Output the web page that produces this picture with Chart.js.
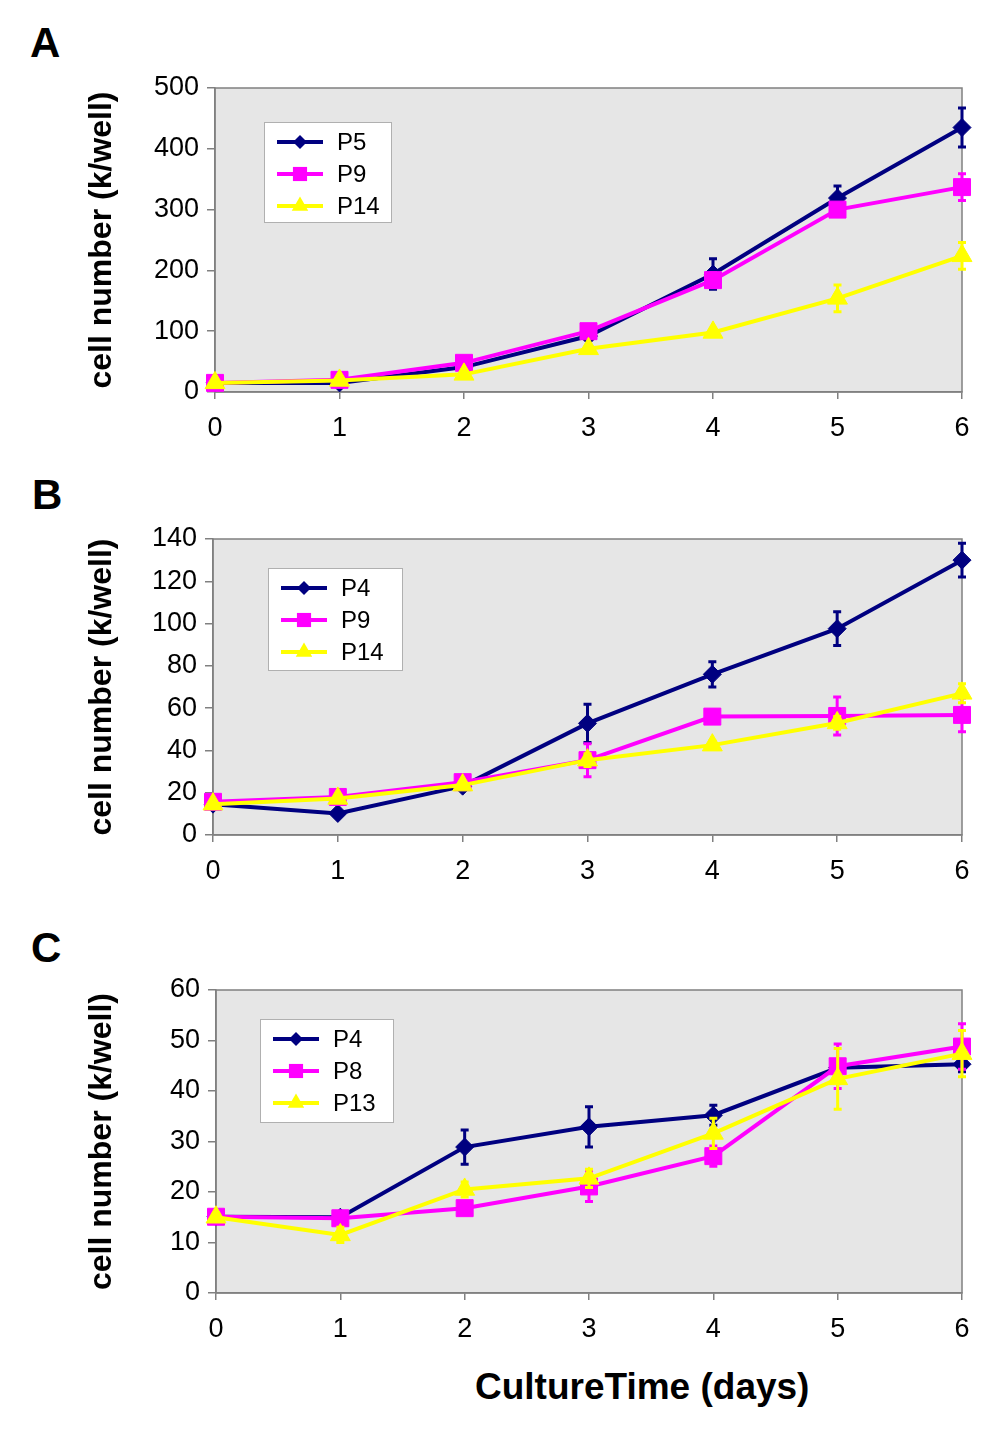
<!DOCTYPE html>
<html lang="en">
<head>
<meta charset="UTF-8">
<title>Cell number vs culture time</title>
<script src="https://cdn.jsdelivr.net/npm/chart.js@4"></script>
<style>
    body {
        margin: 0;
        background: #ffffff;
        width: 994px;
        height: 1432px;
        position: relative;
        overflow: hidden;
        font-family: "Liberation Sans", Arial, sans-serif;
    }
    canvas { position: absolute; left: 0; }
    .letter {
        position: absolute;
        font-size: 42px;
        line-height: 42px;
        font-weight: bold;
    }
    #xTitle {
        position: absolute;
        left: 475px;
        top: 1368px;
        font-size: 37px;
        line-height: 37px;
        font-weight: bold;
        white-space: nowrap;
    }
</style>
</head>
<body>
<div class="letter" style="left:30px; top:22px;">A</div>
<div class="letter" style="left:32px; top:474px;">B</div>
<div class="letter" style="left:31px; top:927px;">C</div>

<canvas id="chartA" width="994" height="460" style="top:0px;"></canvas>
<canvas id="chartB" width="994" height="450" style="top:460px;"></canvas>
<canvas id="chartC" width="994" height="440" style="top:910px;"></canvas>

<div id="xTitle">CultureTime (days)</div>

<script>
// culture time (days)
const days = ['0', '1', '2', '3', '4', '5', '6'];

// panel A (k cells / well) and error bars
const aP5 = [15, 15, 41, 92, 194, 319, 435];
const aP5Err = [3, 3, 3, 5, 25, 20, 32];
const aP9 = [15, 20, 48, 100, 184, 300, 337];
const aP9Err = [2, 2, 4, 5, 12, 8, 22];
const aP14 = [15, 19, 29, 71, 98, 154, 224];
const aP14Err = [2, 2, 3, 6, 6, 22, 22];

// panel B
const bP4 = [14.6, 10.2, 23.1, 52.8, 76, 97.6, 130];
const bP4Err = [1, 1, 1.5, 9, 6, 8, 8];
const bP9 = [15.7, 18, 25, 35.4, 56, 56.3, 56.8];
const bP9Err = [1, 1, 1.5, 7.8, 3, 9, 8];
const bP14 = [14.6, 17.3, 23.6, 35.4, 42.5, 53, 67];
const bP14Err = [1, 1, 1.5, 3, 2, 3, 4.5];

// panel C
const cP4 = [15.1, 15, 28.9, 32.9, 35.2, 44.6, 45.3];
const cP4Err = [0.5, 0.5, 3.4, 4, 2, 1, 1.5];
const cP8 = [15.1, 14.8, 16.8, 21.1, 27.1, 44.9, 48.8];
const cP8Err = [0.5, 1, 0.8, 3, 2, 4.4, 4.5];
const cP13 = [15, 11.5, 20.5, 22.7, 31.6, 42.4, 47.4];
const cP13Err = [0.5, 1.5, 1.5, 1.8, 3, 6, 4.6];

const FONT = '"Liberation Sans", Arial, sans-serif';
const NAVY = '#000080', MAGENTA = '#ff00ff', YELLOW = '#ffff00';

function drawMarker(ctx, style, x, y, r, color) {
    ctx.fillStyle = color;
    ctx.beginPath();
    if (style === 'rectRot') {
        ctx.moveTo(x, y - r); ctx.lineTo(x + r, y); ctx.lineTo(x, y + r); ctx.lineTo(x - r, y);
    } else if (style === 'rect') {
        const s = r * Math.SQRT1_2;
        ctx.rect(x - s, y - s, 2 * s, 2 * s);
    } else {
        const h = r * Math.sqrt(3) / 2;
        ctx.moveTo(x, y - r); ctx.lineTo(x + h, y + r / 2); ctx.lineTo(x - h, y + r / 2);
    }
    ctx.closePath();
    ctx.fill();
}

// grey plot area, frame and the boxed legend
const plotFrame = {
    id: 'plotFrame',
    beforeDraw(chart) {
        const {ctx, chartArea: a} = chart;
        ctx.save();
        ctx.fillStyle = '#e6e6e6';
        ctx.fillRect(a.left, a.top, a.right - a.left, a.bottom - a.top);
        ctx.restore();
    },
    beforeDatasetsDraw(chart) {
        const {ctx, chartArea: a} = chart;
        ctx.save();
        ctx.strokeStyle = '#808080';
        ctx.lineWidth = 1.5;
        ctx.strokeRect(a.left, a.top, a.right - a.left, a.bottom - a.top);
        ctx.restore();
    },
    afterDraw(chart, args, opts) {
        const ctx = chart.ctx;
        const x = opts.x, y = opts.y;
        ctx.save();
        ctx.fillStyle = '#ffffff';
        ctx.fillRect(x, y, opts.w, opts.h);
        ctx.strokeStyle = '#b0b0b0';
        ctx.lineWidth = 1;
        ctx.strokeRect(x + 0.5, y + 0.5, opts.w, opts.h);
        chart.data.datasets.forEach((ds, i) => {
            const ry = y + 20 + i * 32;
            ctx.strokeStyle = ds.borderColor;
            ctx.lineWidth = 4;
            ctx.beginPath();
            ctx.moveTo(x + 13, ry);
            ctx.lineTo(x + 59, ry);
            ctx.stroke();
            drawMarker(ctx, ds.pointStyle, x + 36, ry, ds.pointRadius - 2, ds.borderColor);
            ctx.fillStyle = '#000';
            ctx.font = '24px ' + FONT;
            ctx.textBaseline = 'middle';
            ctx.fillText(ds.label, x + 73, ry + 1);
        });
        ctx.restore();
    }
};

// vertical error bars with caps, drawn with each series
const errorBars = {
    id: 'errorBars',
    afterDatasetDraw(chart, args) {
        const ds = chart.data.datasets[args.index];
        if (!ds.errors) return;
        const ctx = chart.ctx, yScale = chart.scales.y;
        ctx.save();
        ctx.strokeStyle = ds.borderColor;
        ctx.lineWidth = 3;
        args.meta.data.forEach((pt, i) => {
            const e = ds.errors[i];
            const top = yScale.getPixelForValue(ds.data[i] + e);
            const bot = yScale.getPixelForValue(ds.data[i] - e);
            ctx.beginPath();
            ctx.moveTo(pt.x, top); ctx.lineTo(pt.x, bot);
            ctx.moveTo(pt.x - 4, top); ctx.lineTo(pt.x + 4, top);
            ctx.moveTo(pt.x - 4, bot); ctx.lineTo(pt.x + 4, bot);
            ctx.stroke();
        });
        ctx.restore();
    }
};

function series(label, values, errors, color, shape, radius, order) {
    return {
        label: label,
        data: values,
        errors: errors,
        borderColor: color,
        backgroundColor: color,
        pointBackgroundColor: color,
        pointBorderColor: color,
        borderWidth: 4,
        pointStyle: shape,
        pointRadius: radius,
        pointBorderWidth: 1,
        tension: 0,
        clip: false,
        order: order
    };
}

function makeChart(id, datasets, yMax, yStep, opt) {
    new Chart(document.getElementById(id), {
        type: 'line',
        data: { labels: days, datasets: datasets },
        plugins: [plotFrame, errorBars],
        options: {
            responsive: false,
            animation: false,
            layout: { padding: { left: 0, right: 32, top: opt.padTop, bottom: opt.padBottom } },
            plugins: {
                legend: { display: false },
                tooltip: { enabled: false },
                plotFrame: opt.legend
            },
            scales: {
                x: {
                    ticks: { color: '#000', font: { size: 27, family: FONT }, padding: 13, maxRotation: 0 },
                    grid: { drawOnChartArea: false, color: '#808080', tickLength: 7, lineWidth: 1.5 },
                    border: { color: '#808080', width: 1.5 },
                    afterFit(s) { s.height = 50; }
                },
                y: {
                    min: 0,
                    max: yMax,
                    ticks: { stepSize: yStep, color: '#000', font: { size: 27, family: FONT }, padding: 8 },
                    grid: { drawOnChartArea: false, color: '#808080', tickLength: 8, lineWidth: 1.5 },
                    border: { color: '#808080', width: 1.5 },
                    title: {
                        display: true,
                        text: 'cell number (k/well)',
                        color: '#000',
                        font: { size: 32, weight: 'bold', family: FONT },
                        padding: { top: 83, bottom: 0 }
                    },
                    afterFit(s) { s.width = opt.areaLeft; }
                }
            }
        }
    });
}

makeChart('chartA', [
    series('P5', aP5, aP5Err, NAVY, 'rectRot', 9, 3),
    series('P9', aP9, aP9Err, MAGENTA, 'rect', 12, 2),
    series('P14', aP14, aP14Err, YELLOW, 'triangle', 11.5, 1)
], 500, 100, { areaLeft: 215, padTop: 88, padBottom: 18, legend: { x: 264, y: 122, w: 127, h: 100 } });

makeChart('chartB', [
    series('P4', bP4, bP4Err, NAVY, 'rectRot', 9, 3),
    series('P9', bP9, bP9Err, MAGENTA, 'rect', 12, 2),
    series('P14', bP14, bP14Err, YELLOW, 'triangle', 11.5, 1)
], 140, 20, { areaLeft: 213, padTop: 79, padBottom: 25, legend: { x: 268, y: 108, w: 134, h: 102 } });

makeChart('chartC', [
    series('P4', cP4, cP4Err, NAVY, 'rectRot', 9, 3),
    series('P8', cP8, cP8Err, MAGENTA, 'rect', 12, 2),
    series('P13', cP13, cP13Err, YELLOW, 'triangle', 11.5, 1)
], 60, 10, { areaLeft: 216, padTop: 80, padBottom: 7, legend: { x: 260, y: 109, w: 133, h: 103 } });
</script>
</body>
</html>
